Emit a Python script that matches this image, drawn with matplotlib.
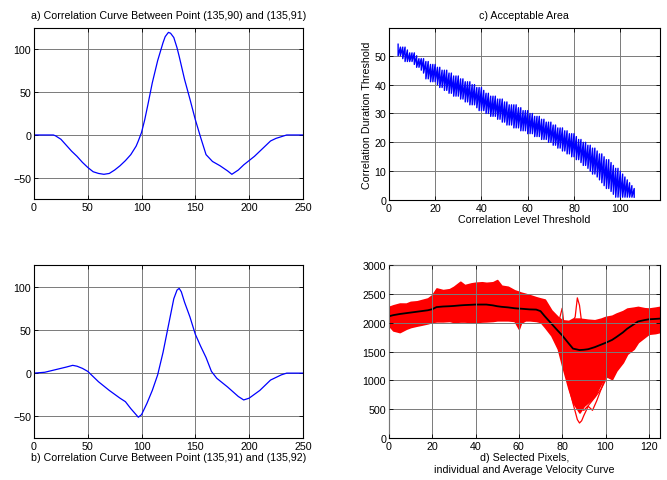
import numpy as np
import matplotlib
matplotlib.use('Agg')
from matplotlib import pyplot as plt

plt.rcParams['font.family'] = ['Liberation Sans', 'DejaVu Sans']
plt.rcParams['font.size'] = 7.7

# a) correlation curve (135,90)-(135,91)
a_x = [0, 10, 18, 20, 25, 30, 35, 40, 45, 50, 55, 60, 65, 70, 75, 80, 85, 90, 95, 97, 100,
       103, 106, 110, 115, 120, 122, 125, 127, 130, 133, 135, 140, 145, 150, 155, 160, 166,
       173, 180, 184, 190, 195, 200, 205, 210, 215, 220, 225, 230, 235, 240, 250]
a_y = [0, 0, 0, -1, -5, -12, -19, -25, -32, -38, -43, -45, -46, -45, -41, -36, -30, -23, -13, -7, 3,
       18, 36, 61, 87, 108, 115, 120, 119, 114, 102, 92, 65, 42, 18, -3, -23, -31,
       -36, -42, -46, -41, -35, -30, -25, -19, -13, -7, -4, -2, 0, 0, 0]

# b) correlation curve (135,91)-(135,92)
b_x = [0, 10, 20, 30, 36, 40, 45, 50, 55, 60, 70, 80, 85, 90, 97, 100, 105, 110, 115,
       120, 125, 130, 133, 135, 137, 140, 145, 150, 155, 160, 165, 170, 180, 190, 195, 200, 210,
       220, 230, 235, 250]
b_y = [0, 1, 4, 7, 9, 8, 5.5, 2, -4, -10, -20, -29, -33, -41, -51, -48, -35, -20, -2,
       24, 55, 86, 96, 98, 94, 82, 65, 45, 31, 18, 2, -6, -16, -27, -31, -29, -20,
       -8, -2, 0, 0]

# c) acceptable area: level threshold 4..106, duration range per level
c_level = list(range(4, 107))
c_upper = [54, 53, 53, 53, 52, 51, 51, 51, 50, 49, 49, 49, 48, 48, 47, 47, 47, 46, 46, 45,
           45, 45, 44, 44, 43, 43, 43, 42, 42, 41, 41, 41, 40, 40, 39, 39, 39, 38, 37, 37,
           36, 36, 36, 35, 35, 35, 34, 34, 33, 33, 33, 33, 32, 32, 31, 31, 31, 30, 30, 29,
           29, 29, 28, 28, 27, 27, 27, 26, 26, 25, 25, 25, 24, 24, 23, 23, 23, 22, 21, 21,
           20, 20, 19, 19, 18, 18, 17, 16, 16, 15, 14, 14, 13, 12, 11, 11, 10, 9, 8, 7,
           6, 5, 4]
c_lower = [50, 50, 49, 48, 48, 48, 48, 47, 46, 46, 45, 44, 42, 42, 41, 41, 41, 40, 39, 39,
           38, 38, 37, 37, 36, 36, 36, 35, 35, 34, 34, 33, 33, 33, 32, 31, 31, 31, 30, 30,
           29, 29, 29, 28, 28, 27, 27, 26, 26, 26, 25, 25, 25, 24, 24, 24, 23, 23, 23, 22,
           22, 22, 21, 21, 21, 20, 20, 19, 19, 18, 18, 17, 17, 16, 16, 15, 15, 14, 14, 13,
           12, 12, 11, 10, 9, 9, 8, 7, 6, 5, 4, 4, 3, 2, 1, 1, 1, 1, 1, 1,
           1, 1, 1]

# d) velocity curves: band of individual curves, mean curve, outliers
d_x = [0, 2, 5, 8, 10, 13, 15, 18, 20, 22, 25, 28, 30, 33, 35, 38, 40, 43, 45, 48,
       50, 52, 55, 58, 60, 61, 63, 65, 68, 70, 72, 75, 78, 80, 83, 85, 88, 90, 92, 95,
       98, 100, 103, 105, 108, 110, 113, 115, 118, 120, 123, 125]
d_mean = [2110, 2130, 2150, 2165, 2175, 2190, 2200, 2215, 2233, 2270, 2280, 2285, 2290, 2300, 2305, 2310, 2314, 2314, 2314, 2300,
          2285, 2275, 2265, 2250, 2244, 2242, 2236, 2230, 2227, 2200, 2110, 1985, 1860, 1780, 1640, 1550, 1525, 1530, 1540, 1575,
          1620, 1650, 1700, 1750, 1830, 1895, 1970, 2020, 2045, 2058, 2065, 2070]
d_upper = [2273, 2300, 2331, 2330, 2360, 2370, 2390, 2420, 2477, 2593, 2564, 2580, 2622, 2709, 2651, 2680, 2692, 2700, 2690, 2700,
           2738, 2640, 2622, 2560, 2535, 2520, 2500, 2477, 2440, 2419, 2400, 2215, 2099, 2041, 2030, 2070, 2070, 2060, 2050, 2041,
           2070, 2099, 2120, 2157, 2200, 2244, 2260, 2273, 2250, 2244, 2260, 2273]
d_lower = [1953, 1866, 1837, 1895, 1924, 1950, 1965, 1990, 2012, 2023, 2023, 2030, 2012, 2020, 2020, 2012, 2012, 2020, 2023, 2030,
           2041, 2041, 2041, 2030, 1895, 2000, 2041, 2041, 2030, 2012, 1924, 1779, 1547, 1256, 850, 616, 442, 558, 620, 733,
           950, 1080, 1023, 1169, 1314, 1459, 1547, 1663, 1750, 1808, 1820, 1837]
d_spike_x = [75, 78, 80, 83, 86, 87, 88, 89, 90, 95, 100]
d_spike_y = [2000, 1900, 1800, 1900, 2100, 2430, 2300, 2000, 1900, 1850, 1900]
d_spike2_x = [76, 78, 79, 80, 81, 83]
d_spike2_y = [2000, 1950, 2100, 2250, 1900, 1700]
d_dip_x = [75, 80, 83, 85, 87, 88, 89, 90, 92, 94, 96, 100]
d_dip_y = [1900, 1400, 900, 600, 320, 260, 300, 390, 550, 480, 650, 1050]
d_dip2_x = [78, 82, 85, 88, 90, 92, 95, 98, 102]
d_dip2_y = [1700, 1100, 750, 520, 480, 560, 700, 850, 1150]


def style(ax):
    ax.grid(True, color='#7a7a7a', linewidth=0.7)
    ax.set_axisbelow(True)
    ax.tick_params(direction='in', top=True, right=True, length=3, width=0.6,
                   labelsize=7.7, pad=2)
    for s in ax.spines.values():
        s.set_linewidth(0.8)
        s.set_color('black')


fig = plt.figure(figsize=(6.67, 4.81), dpi=100)

ax_a = fig.add_axes([0.051, 0.584, 0.403, 0.3555])
ax_a.plot(a_x, a_y, color='blue', lw=0.9)
ax_a.set_xlim(0, 250)
ax_a.set_ylim(-75, 125)
ax_a.set_xticks(range(0, 251, 50))
ax_a.set_yticks([-50, 0, 50, 100])
ax_a.set_title('a) Correlation Curve Between Point (135,90) and (135,91)', fontsize=7.7, pad=7)
style(ax_a)

ax_b = fig.add_axes([0.051, 0.0873, 0.403, 0.3597])
ax_b.plot(b_x, b_y, color='blue', lw=0.9)
ax_b.set_xlim(0, 250)
ax_b.set_ylim(-75, 125)
ax_b.set_xticks(range(0, 251, 50))
ax_b.set_yticks([-50, 0, 50, 100])
ax_b.set_xlabel('b) Correlation Curve Between Point (135,91) and (135,92)', fontsize=7.7, labelpad=1)
style(ax_b)

# zigzag: drop from upper to lower at each level, then climb to next level
zx, zy = [], []
for lv, up, lo in zip(c_level, c_upper, c_lower):
    zx += [lv, lv]
    zy += [up, lo]
ax_c = fig.add_axes([0.583, 0.582, 0.406, 0.3576])
ax_c.plot(zx, zy, color='blue', lw=1.0)
ax_c.set_xlim(0, 117)
ax_c.set_ylim(0, 59.6)
ax_c.set_xticks(range(0, 101, 20))
ax_c.set_yticks(range(0, 51, 10))
ax_c.set_title('c) Acceptable Area', fontsize=7.7, pad=7)
ax_c.set_xlabel('Correlation Level Threshold', fontsize=7.7, labelpad=1)
ax_c.set_ylabel('Correlation Duration Threshold', fontsize=7.7, labelpad=2)
style(ax_c)

ax_d = fig.add_axes([0.583, 0.0873, 0.406, 0.3597])
ax_d.fill_between(d_x, d_lower, d_upper, color='red', lw=1.2, edgecolor='red')
for xs, ys in [(d_spike_x, d_spike_y), (d_spike2_x, d_spike2_y),
               (d_dip_x, d_dip_y), (d_dip2_x, d_dip2_y)]:
    ax_d.plot(xs, ys, color='red', lw=0.9)
ax_d.plot(d_x, d_mean, color='black', lw=1.3)
ax_d.set_xlim(0, 125)
ax_d.set_ylim(0, 3000)
ax_d.set_xticks(range(0, 121, 20))
ax_d.set_yticks(range(0, 3001, 500))
ax_d.set_xlabel('d) Selected Pixels,\nindividual and Average Velocity Curve', fontsize=7.7, labelpad=1)
style(ax_d)
ax_d.set_axisbelow(False)

fig.savefig('out.png', dpi=100)
